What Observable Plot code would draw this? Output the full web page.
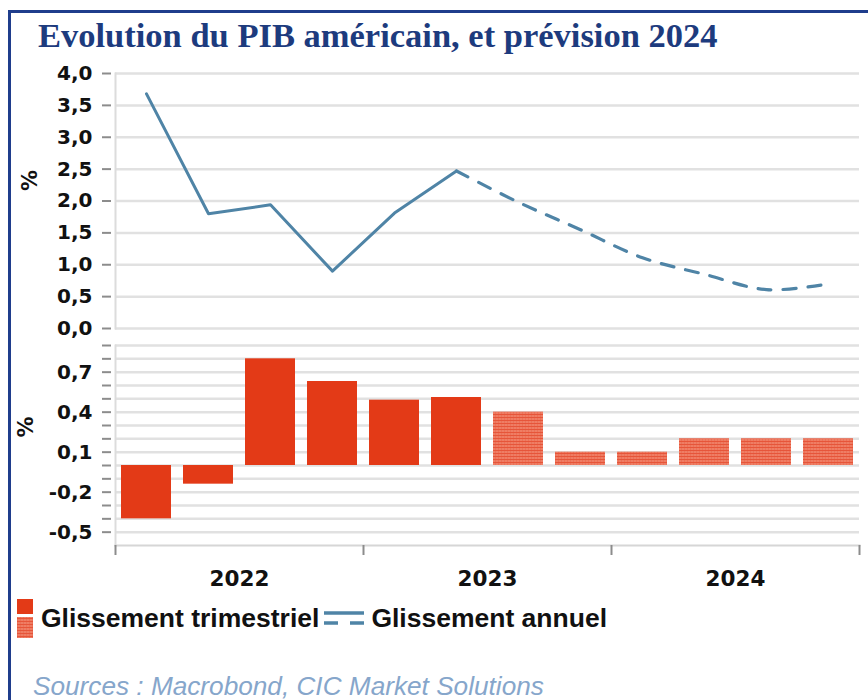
<!DOCTYPE html>
<html>
<head>
<meta charset="utf-8">
<script src="https://cdn.jsdelivr.net/npm/d3@7"></script>
<script src="https://cdn.jsdelivr.net/npm/@observablehq/plot@0.6"></script>
<style>
  body { margin: 0; background: #fff; }
  #wrap { position: relative; width: 868px; height: 700px; overflow: hidden; background: #fff; }
  #border { position: absolute; left: 8px; top: 10px; width: 900px; height: 720px;
            border-left: 3px solid #1f3d8c; border-top: 3px solid #1f3d8c; box-sizing: border-box; }
  #title { position: absolute; left: 38px; top: 16px; line-height: 34.5px; white-space: nowrap;
           font: bold 34.5px "Liberation Serif", "Times New Roman", serif; color: #1d3b7e; }
  .panel { position: absolute; left: 0; }
  .panel svg { overflow: visible; }
  g[aria-label="y-axis tick"], g[aria-label="x-axis tick"] { stroke: #8c8c8c; stroke-width: 2px; }
  g[aria-label="y-axis tick label"], g[aria-label="x-axis tick label"] {
    font-family: "DejaVu Sans", sans-serif; font-weight: bold; font-size: 20px; fill: #111; }
  g[aria-label="x-axis tick label"] { font-size: 21.5px; }
  #legend { position: absolute; left: 17px; top: 596px; height: 44px; display: flex; align-items: center;
            font: bold 26.5px "Liberation Sans", Arial, sans-serif; color: #111; white-space: nowrap; }
  #sources { position: absolute; left: 33px; top: 671px; line-height: 28px; white-space: nowrap;
             font: italic 26.2px "Liberation Sans", Arial, sans-serif; color: #86a6cb; }
</style>
</head>
<body>
<div id="wrap">
  <div id="border"></div>
  <div id="title">Evolution du PIB américain, et prévision 2024</div>
  <div id="top" class="panel" style="top:60px"></div>
  <div id="bottom" class="panel" style="top:330px"></div>
  <div id="legend">
    <svg width="18" height="42" style="margin-right:6px">
      <defs>
        <pattern id="hatchL" width="3" height="3" patternUnits="userSpaceOnUse">
          <rect width="3" height="3" fill="#ef7d64"></rect>
          <rect width="3" height="1" fill="#e6553a"></rect>
          <rect width="1" height="3" fill="#e6553a" opacity="0.3"></rect>
        </pattern>
      </defs>
      <rect x="0" y="2" width="16" height="15" fill="#e33a17"></rect>
      <rect x="0" y="20" width="16" height="21" fill="url(#hatchL)"></rect>
    </svg>
    <span>Glissement trimestriel</span>
    <svg width="44" height="30" style="margin:0 5px 0 3px">
      <line x1="2" x2="42" y1="10" y2="10" stroke="#4f84a6" stroke-width="3.5"></line>
      <line x1="2" x2="42" y1="20" y2="20" stroke="#4f84a6" stroke-width="3.5" stroke-dasharray="14,12"></line>
    </svg>
    <span>Glissement annuel</span>
  </div>
  <div id="sources">Sources : Macrobond, CIC Market Solutions</div>
</div>
<script>
// ---- Data ----
const quarters = ["T1 2022","T2 2022","T3 2022","T4 2022",
                  "T1 2023","T2 2023","T3 2023","T4 2023",
                  "T1 2024","T2 2024","T3 2024","T4 2024"];
const glissementTrimestriel = [-0.40, -0.14, 0.80, 0.63, 0.49, 0.51, 0.40, 0.10, 0.10, 0.20, 0.20, 0.20];
const glissementAnnuel      = [3.68, 1.80, 1.94, 0.90, 1.81, 2.47, 1.98, 1.55, 1.11, 0.85, 0.61, 0.70];
const prevision = [false, false, false, false, false, false, true, true, true, true, true, true];
const years = ["2022", "2023", "2024"];
const yTicksAnnuel = [0, 0.5, 1, 1.5, 2, 2.5, 3, 3.5, 4];
const yTicksTrimestriel = [-0.5, -0.4, -0.3, -0.2, -0.1, 0, 0.1, 0.2, 0.3, 0.4, 0.5, 0.6, 0.7, 0.8, 0.9];
const yLabelsTrimestriel = ["-0,5", "-0,2", "0,1", "0,4", "0,7"];

// ---- Derived table ----
const rows = quarters.map((q, i) => ({
  q, i, trim: glissementTrimestriel[i], annuel: glissementAnnuel[i], prev: prevision[i]
}));
const lastObserved = prevision.indexOf(true) - 1;
const fmt = d => d.toFixed(1).replace(".", ",");
const red = "#e33a17", blue = "#4f84a6", grid = "#e1e1e1";
const W = 868, ML = 115, MR = 9;
const xDomain = [0, quarters.length];
const yearBounds = d3.range(0, quarters.length + 1, 4);
const yearMids = years.map((y, k) => k * 4 + 2);

const topPlot = Plot.plot({
  width: W, height: 270, marginTop: 13, marginBottom: 2, marginLeft: ML, marginRight: MR,
  x: {domain: xDomain, axis: null},
  y: {domain: [0, 4], axis: null},
  marks: [
    Plot.gridY({ticks: yTicksAnnuel, stroke: grid, strokeOpacity: 1, strokeWidth: 2.5}),
    Plot.frame({anchor: "left", stroke: "#dcdcdc", strokeWidth: 2}),
    Plot.axisY({ticks: yTicksAnnuel, tickSize: 9, tickPadding: 10, dx: -4, tickFormat: fmt, label: null}),
    Plot.lineY(rows.filter(d => d.i <= lastObserved),
      {x: d => d.i + 0.5, y: "annuel", stroke: blue, strokeWidth: 3}),
    Plot.lineY(rows.filter(d => d.i >= lastObserved),
      {x: d => d.i + 0.5, y: "annuel", stroke: blue, strokeWidth: 3.2,
       strokeDasharray: "13,12", curve: "catmull-rom"}),
    Plot.text(["%"], {frameAnchor: "left", dx: -85, dy: -10, rotate: -90,
      fontSize: 21, fontWeight: "bold", fontFamily: "DejaVu Sans", fill: "#111"})
  ]
});
document.getElementById("top").append(topPlot);

const defsMark = () => {
  const g = d3.create("svg:g");
  const p = g.append("defs").append("pattern")
    .attr("id", "hatchQ").attr("width", 3).attr("height", 3).attr("patternUnits", "userSpaceOnUse");
  p.append("rect").attr("width", 3).attr("height", 3).attr("fill", "#ef7d64");
  p.append("rect").attr("width", 3).attr("height", 1).attr("fill", "#e6553a");
  p.append("rect").attr("width", 1).attr("height", 3).attr("fill", "#e6553a").attr("opacity", 0.3);
  return g.node();
};

const bottomPlot = Plot.plot({
  width: W, height: 265, marginTop: 15, marginBottom: 50, marginLeft: ML, marginRight: MR,
  x: {domain: xDomain, axis: null},
  y: {domain: [-0.6, 0.9], axis: null},
  marks: [
    defsMark,
    Plot.gridY({ticks: yTicksTrimestriel, stroke: grid, strokeOpacity: 1, strokeWidth: 2.5}),
    Plot.frame({anchor: "left", stroke: "#dcdcdc", strokeWidth: 2}),
    Plot.frame({anchor: "bottom", stroke: "#d6d6d6", strokeWidth: 2}),
    Plot.axisY({ticks: yTicksTrimestriel, tickSize: 9, tickPadding: 10, dx: -4, label: null,
      tickFormat: d => yLabelsTrimestriel.includes(fmt(d)) ? fmt(d) : ""}),
    Plot.rectY(rows.filter(d => !d.prev),
      {x1: "i", x2: d => d.i + 1, y: "trim", insetLeft: 6, insetRight: 6, fill: red}),
    Plot.rectY(rows.filter(d => d.prev),
      {x1: "i", x2: d => d.i + 1, y: "trim", insetLeft: 6, insetRight: 6, fill: "url(#hatchQ)"}),
    Plot.axisX({ticks: yearBounds, tickSize: 10, tickFormat: () => "", label: null}),
    Plot.axisX({ticks: yearMids, tickSize: 0, tickPadding: 25, label: null,
      tickFormat: d => years[(d - 2) / 4]}),
    Plot.text(["%"], {frameAnchor: "left", dx: -89, dy: -8, rotate: -90,
      fontSize: 21, fontWeight: "bold", fontFamily: "DejaVu Sans", fill: "#111"})
  ]
});
document.getElementById("bottom").append(bottomPlot);
</script>
</body>
</html>
